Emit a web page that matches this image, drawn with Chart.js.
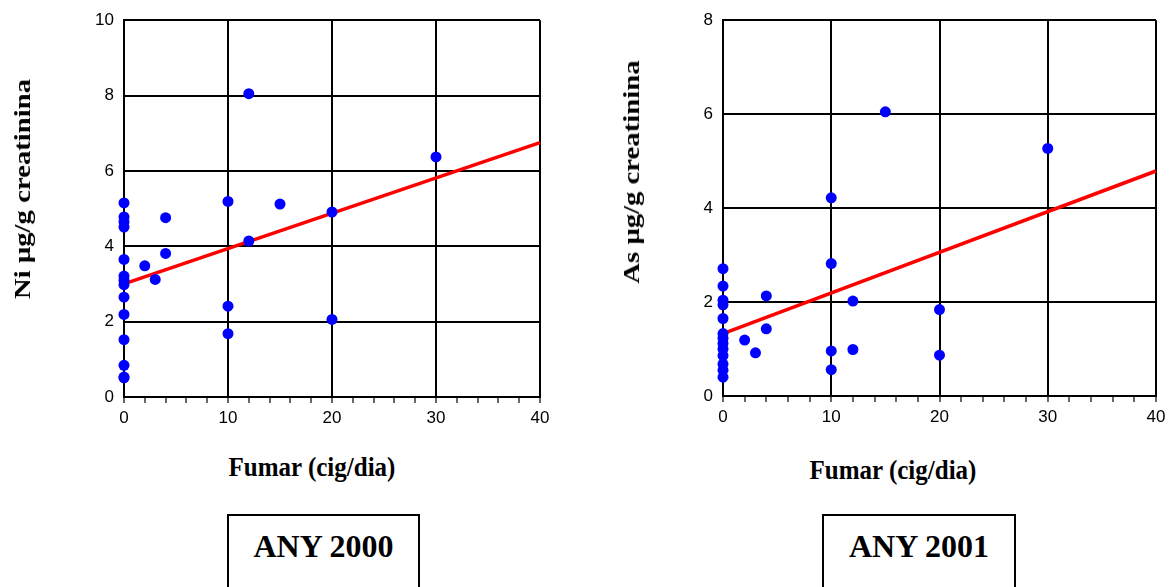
<!DOCTYPE html>
<html>
<head>
<meta charset="utf-8">
<script src="https://cdn.jsdelivr.net/npm/chart.js@4.4.1/dist/chart.umd.min.js"></script>
<style>
  html, body { margin: 0; padding: 0; background: #fff; }
  body { width: 1173px; height: 587px; overflow: hidden; position: relative; }
  canvas { position: absolute; top: 0; }
  .ytitle, .xtitle, .box { position: absolute; font-family: "Liberation Serif", "Times New Roman", serif; font-weight: bold; color: #000; white-space: nowrap; }
  .ytitle { font-size: 23px; }
  .xtitle { font-size: 25px; }
  .box { border: 2px solid #000; box-sizing: border-box; height: 120px; font-size: 32px; text-align: center; padding-top: 12px; }
</style>
</head>
<body>
<canvas id="c1" width="580" height="430" style="left:0px"></canvas>
<canvas id="c2" width="573" height="430" style="left:600px"></canvas>
<div class="ytitle" id="yt1"></div>
<div class="ytitle" id="yt2"></div>
<div class="xtitle" id="xt1"></div>
<div class="xtitle" id="xt2"></div>
<div class="box" id="b1"></div>
<div class="box" id="b2"></div>
<script>
// ---- Data ----
const xTickLabels = [0, 10, 20, 30, 40];
const niYTicks = [0, 2, 4, 6, 8, 10];
const asYTicks = [0, 2, 4, 6, 8];

const niX = [0, 0, 0, 0, 0, 0, 0, 0, 0, 0, 0, 0, 0, 0, 2, 3, 4, 4, 10, 10, 10, 12, 12, 15, 20, 20, 30];
const niY = [5.15, 4.78, 4.65, 4.51, 3.65, 3.21, 3.10, 2.98, 2.65, 2.19, 1.52, 0.84, 0.51, 0.53, 3.48, 3.12, 4.76, 3.81, 5.19, 2.41, 1.68, 8.05, 4.14, 5.12, 4.91, 2.06, 6.37];

const asX = [0, 0, 0, 0, 0, 0, 0, 0, 0, 0, 0, 0, 0, 2, 3, 4, 4, 10, 10, 10, 10, 12, 12, 15, 20, 20, 30];
const asY = [2.71, 2.34, 2.04, 1.94, 1.65, 1.33, 1.23, 1.12, 1.00, 0.86, 0.68, 0.55, 0.40, 1.19, 0.92, 2.13, 1.43, 4.22, 2.82, 0.96, 0.56, 2.02, 0.99, 6.05, 1.84, 0.87, 5.27];

const trendX = [0, 40];
const niTrend = [3.0, 6.75];
const asTrend = [1.33, 4.79];

const niTitle = "Ni \u03bcg/g creatinina";
const asTitle = "As \u03bcg/g creatinina";
const xTitle = "Fumar (cig/dia)";
const panelTitles = ["ANY 2000", "ANY 2001"];

// ---- Charts ----
function pts(xs, ys) { return xs.map((x, i) => ({ x: x, y: ys[i] })); }

function makeChart(id, xs, ys, trend, yTicks, yAxisWidth, xAxisHeight, padRight) {
  const yMax = yTicks[yTicks.length - 1];
  const tickFont = { family: '"Liberation Sans", Arial, sans-serif', size: 17 };
  return new Chart(document.getElementById(id), {
    type: 'scatter',
    data: {
      datasets: [
        {
          type: 'scatter',
          data: pts(xs, ys),
          pointRadius: 5.5,
          pointHoverRadius: 5.5,
          pointBackgroundColor: '#0000ff',
          pointBorderWidth: 0,
          order: 0,
          clip: false
        },
        {
          type: 'line',
          data: pts(trendX, trend),
          borderColor: '#ff0000',
          borderWidth: 3.5,
          pointRadius: 0,
          fill: false,
          order: 1,
          clip: false
        }
      ]
    },
    options: {
      responsive: false,
      animation: false,
      devicePixelRatio: 1,
      layout: { padding: { top: 20, right: padRight, bottom: 0, left: 0 } },
      plugins: { legend: { display: false }, tooltip: { enabled: false } },
      scales: {
        x: {
          type: 'linear',
          min: 0, max: 40,
          afterFit: (s) => { s.height = xAxisHeight; },
          border: { color: '#000', width: 2 },
          grid: {
            color: (c) => (c.tick && xTickLabels.includes(c.tick.value)) ? '#000' : 'rgba(0,0,0,0)',
            lineWidth: 2,
            drawTicks: true,
            tickLength: 6,
            tickWidth: 1.2,
            tickColor: '#000'
          },
          ticks: {
            stepSize: 2,
            autoSkip: false,
            maxRotation: 0,
            padding: 5,
            color: '#000',
            font: tickFont,
            callback: (v) => xTickLabels.includes(v) ? String(v) : ''
          }
        },
        y: {
          type: 'linear',
          min: 0, max: yMax,
          afterFit: (s) => { s.width = yAxisWidth; },
          border: { color: '#000', width: 2 },
          grid: { color: '#000', lineWidth: 2, drawTicks: false },
          ticks: {
            stepSize: 2,
            padding: 10,
            color: '#000',
            font: tickFont,
            callback: (v) => yTicks.includes(v) ? String(v) : ''
          }
        }
      }
    }
  });
}

makeChart('c1', niX, niY, niTrend, niYTicks, 124, 33, 40);
makeChart('c2', asX, asY, asTrend, asYTicks, 123, 34, 17);

// ---- Text ----
function place(el, text, cx, cy, transform) {
  el.textContent = text;
  el.style.left = cx + 'px';
  el.style.top = cy + 'px';
  el.style.transform = 'translate(-50%, -50%) ' + (transform || '');
}
place(document.getElementById('yt1'), niTitle, 23, 189, 'rotate(-90deg) scaleX(1.25)');
place(document.getElementById('yt2'), asTitle, 632, 172, 'rotate(-90deg) scaleX(1.25)');
place(document.getElementById('xt1'), xTitle, 312, 467, 'scaleY(1.08)');
place(document.getElementById('xt2'), xTitle, 893, 470, 'scaleY(1.08)');

const b1 = document.getElementById('b1');
b1.textContent = panelTitles[0];
b1.style.left = '227px'; b1.style.top = '514px'; b1.style.width = '193px';
const b2 = document.getElementById('b2');
b2.textContent = panelTitles[1];
b2.style.left = '822px'; b2.style.top = '514px'; b2.style.width = '194px';
</script>
</body>
</html>
